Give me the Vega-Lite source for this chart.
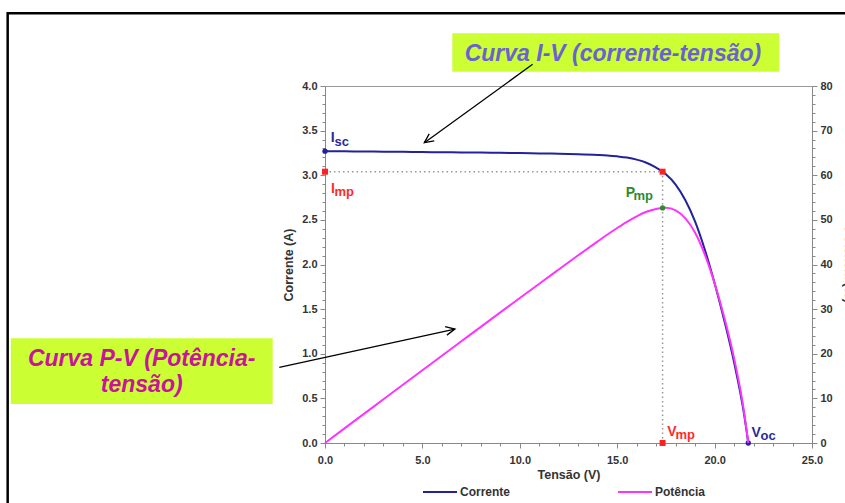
{
  "$schema": "https://vega.github.io/schema/vega-lite/v6.json",
  "width": 487,
  "height": 357,
  "autosize": {"type": "none"},
  "padding": {"left": 325, "top": 86, "right": 33, "bottom": 60},
  "background": "white",
  "config": {
    "font": "Liberation Sans",
    "view": {"stroke": "#999", "strokeWidth": 1},
    "axis": {
      "grid": false,
      "domainColor": "#888",
      "tickColor": "#888",
      "labelColor": "#333",
      "labelFontSize": 11,
      "labelFontWeight": "bold",
      "titleFontSize": 12.5,
      "titleFontWeight": "bold",
      "titleColor": "#333",
      "labelOverlap": false,
      "labelFlush": false
    }
  },
  "datasets": {
    "curve": [
      {"V": 0, "I": 3.27, "P": 0},
      {"V": 1, "I": 3.268, "P": 3.27},
      {"V": 2, "I": 3.266, "P": 6.53},
      {"V": 3, "I": 3.264, "P": 9.79},
      {"V": 4, "I": 3.262, "P": 13.05},
      {"V": 5, "I": 3.26, "P": 16.3},
      {"V": 6, "I": 3.258, "P": 19.55},
      {"V": 7, "I": 3.256, "P": 22.79},
      {"V": 8, "I": 3.254, "P": 26.03},
      {"V": 9, "I": 3.251, "P": 29.26},
      {"V": 10, "I": 3.248, "P": 32.48},
      {"V": 11, "I": 3.245, "P": 35.7},
      {"V": 12, "I": 3.241, "P": 38.89},
      {"V": 13, "I": 3.236, "P": 42.07},
      {"V": 14, "I": 3.228, "P": 45.19},
      {"V": 14.5, "I": 3.222, "P": 46.72},
      {"V": 15, "I": 3.212, "P": 48.18},
      {"V": 15.5, "I": 3.198, "P": 49.57},
      {"V": 16, "I": 3.175, "P": 50.8},
      {"V": 16.5, "I": 3.14, "P": 51.81},
      {"V": 17, "I": 3.085, "P": 52.45},
      {"V": 17.33, "I": 3.04, "P": 52.68},
      {"V": 17.5, "I": 3.011, "P": 52.69},
      {"V": 18, "I": 2.895, "P": 52.11},
      {"V": 18.5, "I": 2.72, "P": 50.32},
      {"V": 19, "I": 2.48, "P": 47.12},
      {"V": 19.5, "I": 2.165, "P": 42.22},
      {"V": 20, "I": 1.79, "P": 35.8},
      {"V": 20.5, "I": 1.37, "P": 28.09},
      {"V": 21, "I": 0.905, "P": 19.01},
      {"V": 21.5, "I": 0.34, "P": 7.31},
      {"V": 21.73, "I": 0, "P": 0}
    ],
    "frame": [{"V": -16.29, "V2": 30, "I": 4.815, "I2": -1}],
    "boxes": [
      {"V": 6.535, "V2": 23.32, "I": 4.59, "I2": 4.16},
      {"V": -16.13, "V2": -2.685, "I": 1.173, "I2": 0.437}
    ],
    "callout_iv": [{"V": 14.78, "I": 4.283, "t": "Curva I-V (corrente-tensão)"}],
    "callout_pv": [
      {"V": -9.41, "I": 0.863, "t": "Curva P-V (Potência-"},
      {"V": -9.41, "I": 0.566, "t": "tensão)"}
    ],
    "arrows": [
      {"V": 10.66, "I": 4.243, "V2": 5.1, "I2": 3.365},
      {"V": -2.346, "I": 0.848, "V2": 6.67, "I2": 1.277}
    ],
    "head1": [{"V": 5.1, "I": 3.365}],
    "head2": [{"V": 6.67, "I": 1.277}],
    "guides": [
      {"V": 0, "I": 3.04, "V2": 17.33, "I2": 3.04},
      {"V": 17.33, "I": 0, "V2": 17.33, "I2": 3.04}
    ],
    "red_pts": [{"V": 0, "I": 3.04}, {"V": 17.33, "I": 3.04}, {"V": 17.33, "I": 0}],
    "navy_pts": [{"V": 0, "I": 3.27}, {"V": 21.73, "I": 0}],
    "green_pt": [{"V": 17.33, "P": 52.68}],
    "navy_main": [{"V": 0.298, "I": 3.37, "t": "I"}, {"V": 21.89, "I": 0.067, "t": "V"}],
    "navy_sub": [{"V": 0.488, "I": 3.328, "t": "sc"}, {"V": 22.36, "I": 0.034, "t": "oc"}],
    "red_main": [{"V": 0.308, "I": 2.8, "t": "I"}, {"V": 17.57, "I": 0.078, "t": "V"}],
    "red_sub": [{"V": 0.488, "I": 2.765, "t": "mp"}, {"V": 17.99, "I": 0.045, "t": "mp"}],
    "green_main": [{"V": 15.44, "I": 2.76, "t": "P"}],
    "green_sub": [{"V": 15.84, "I": 2.727, "t": "mp"}]
  },
  "encoding": {
    "x": {
      "field": "V",
      "type": "quantitative",
      "scale": {"domain": [0, 25], "nice": false, "zero": false},
      "axis": {
        "title": "Tensão (V)",
        "values": [0,1,2,3,4,5,6,7,8,9,10,11,12,13,14,15,16,17,18,19,20,21,22,23,24,25],
        "labelExpr": "datum.value % 5 == 0 ? format(datum.value, '.1f') : ''",
        "tickSize": {"condition": {"test": "datum.value % 5 == 0", "value": 5}, "value": 3},
        "labelPadding": 6,
        "titlePadding": 3
      }
    }
  },
  "layer": [
    {
      "encoding": {
        "y": {
          "field": "I",
          "type": "quantitative",
          "scale": {"domain": [0, 4], "nice": false, "zero": false},
          "axis": {
            "orient": "left",
            "title": "Corrente (A)",
            "values": [0,0.1,0.2,0.3,0.4,0.5,0.6,0.7,0.8,0.9,1,1.1,1.2,1.3,1.4,1.5,1.6,1.7,1.8,1.9,2,2.1,2.2,2.3,2.4,2.5,2.6,2.7,2.8,2.9,3,3.1,3.2,3.3,3.4,3.5,3.6,3.7,3.8,3.9,4],
            "labelExpr": "abs(datum.value*2 - round(datum.value*2)) < 0.001 ? format(datum.value, '.1f') : ''",
            "tickSize": {"condition": {"test": "abs(datum.value*2 - round(datum.value*2)) < 0.001", "value": 5}, "value": 3},
            "labelPadding": 3,
            "titlePadding": 6
          }
        }
      },
      "layer": [
        {
          "data": {"name": "frame"},
          "mark": {"type": "rect", "filled": false, "color": "black", "strokeWidth": 2.5},
          "encoding": {"x2": {"field": "V2"}, "y2": {"field": "I2"}}
        },
        {
          "data": {"name": "boxes"},
          "mark": {"type": "rect", "color": "#ccff33"},
          "encoding": {"x2": {"field": "V2"}, "y2": {"field": "I2"}}
        },
        {
          "data": {"name": "callout_iv"},
          "mark": {"type": "text", "align": "center", "baseline": "alphabetic", "fontSize": 23, "fontWeight": "bold", "fontStyle": "italic", "color": "#6b62d1"},
          "encoding": {"text": {"field": "t"}}
        },
        {
          "data": {"name": "callout_pv"},
          "mark": {"type": "text", "align": "center", "baseline": "alphabetic", "fontSize": 23, "fontWeight": "bold", "fontStyle": "italic", "color": "#c8139c"},
          "encoding": {"text": {"field": "t"}}
        },
        {
          "data": {"name": "arrows"},
          "mark": {"type": "rule", "color": "black", "strokeWidth": 1.3},
          "encoding": {"x2": {"field": "V2"}, "y2": {"field": "I2"}}
        },
        {
          "data": {"name": "head1"},
          "mark": {"type": "point", "shape": "M -0.75 1.6 L 0 0 L 0.75 1.6", "filled": false, "color": "black", "strokeWidth": 1.3, "size": 130, "angle": 234, "opacity": 1},
          "encoding": {}
        },
        {
          "data": {"name": "head2"},
          "mark": {"type": "point", "shape": "M -0.75 1.6 L 0 0 L 0.75 1.6", "filled": false, "color": "black", "strokeWidth": 1.3, "size": 130, "angle": 78, "opacity": 1},
          "encoding": {}
        },
        {
          "data": {"name": "guides"},
          "mark": {"type": "rule", "color": "#999", "strokeWidth": 1.5, "strokeDash": [1.5, 3]},
          "encoding": {"x2": {"field": "V2"}, "y2": {"field": "I2"}}
        },
        {
          "data": {"name": "curve"},
          "mark": {"type": "line", "strokeWidth": 2, "interpolate": "monotone"},
          "encoding": {
            "color": {
              "datum": "Corrente",
              "type": "nominal",
              "scale": {"domain": ["Corrente", "Potência"], "range": ["#22229a", "#ff33ff"]},
              "legend": {
                "title": null,
                "orient": "none",
                "legendX": 97,
                "legendY": 388,
                "direction": "horizontal",
                "symbolType": "stroke",
                "symbolSize": 1156,
                "symbolStrokeWidth": 2,
                "labelFontSize": 12,
                "labelFontWeight": "bold",
                "labelColor": "#333",
                "labelOffset": 2,
                "columnPadding": 103,
                "padding": 0
              }
            }
          }
        },
        {
          "data": {"name": "red_pts"},
          "mark": {"type": "point", "shape": "square", "filled": true, "color": "#ff2020", "size": 36, "opacity": 1},
          "encoding": {}
        },
        {
          "data": {"name": "navy_pts"},
          "mark": {"type": "point", "shape": "circle", "filled": true, "color": "#22229a", "size": 28, "opacity": 1},
          "encoding": {}
        },
        {
          "data": {"name": "navy_main"},
          "mark": {"type": "text", "align": "left", "baseline": "alphabetic", "fontSize": 14, "fontWeight": "bold", "color": "#2a2a9a"},
          "encoding": {"text": {"field": "t"}}
        },
        {
          "data": {"name": "navy_sub"},
          "mark": {"type": "text", "align": "left", "baseline": "alphabetic", "fontSize": 13, "fontWeight": "bold", "color": "#2a2a9a"},
          "encoding": {"text": {"field": "t"}}
        },
        {
          "data": {"name": "red_main"},
          "mark": {"type": "text", "align": "left", "baseline": "alphabetic", "fontSize": 14, "fontWeight": "bold", "color": "#ff2a2a"},
          "encoding": {"text": {"field": "t"}}
        },
        {
          "data": {"name": "red_sub"},
          "mark": {"type": "text", "align": "left", "baseline": "alphabetic", "fontSize": 13, "fontWeight": "bold", "color": "#ff2a2a"},
          "encoding": {"text": {"field": "t"}}
        },
        {
          "data": {"name": "green_main"},
          "mark": {"type": "text", "align": "left", "baseline": "alphabetic", "fontSize": 14, "fontWeight": "bold", "color": "#2e8b2e"},
          "encoding": {"text": {"field": "t"}}
        },
        {
          "data": {"name": "green_sub"},
          "mark": {"type": "text", "align": "left", "baseline": "alphabetic", "fontSize": 13, "fontWeight": "bold", "color": "#2e8b2e"},
          "encoding": {"text": {"field": "t"}}
        }
      ]
    },
    {
      "encoding": {
        "y": {
          "field": "P",
          "type": "quantitative",
          "scale": {"domain": [0, 80], "nice": false, "zero": false},
          "axis": {
            "orient": "right",
            "title": "Potência (W)",
            "values": [0,2,4,6,8,10,12,14,16,18,20,22,24,26,28,30,32,34,36,38,40,42,44,46,48,50,52,54,56,58,60,62,64,66,68,70,72,74,76,78,80],
            "labelExpr": "datum.value % 10 == 0 ? format(datum.value, 'd') : ''",
            "tickSize": {"condition": {"test": "datum.value % 10 == 0", "value": 5}, "value": 3},
            "labelPadding": 3,
            "titlePadding": 9
          }
        }
      },
      "layer": [
        {
          "data": {"name": "curve"},
          "mark": {"type": "line", "strokeWidth": 2, "interpolate": "monotone"},
          "encoding": {"color": {"datum": "Potência", "type": "nominal"}}
        },
        {
          "data": {"name": "green_pt"},
          "mark": {"type": "point", "shape": "circle", "filled": true, "color": "#2e8b2e", "size": 28, "opacity": 1},
          "encoding": {}
        }
      ]
    }
  ],
  "resolve": {"scale": {"y": "independent"}}
}
